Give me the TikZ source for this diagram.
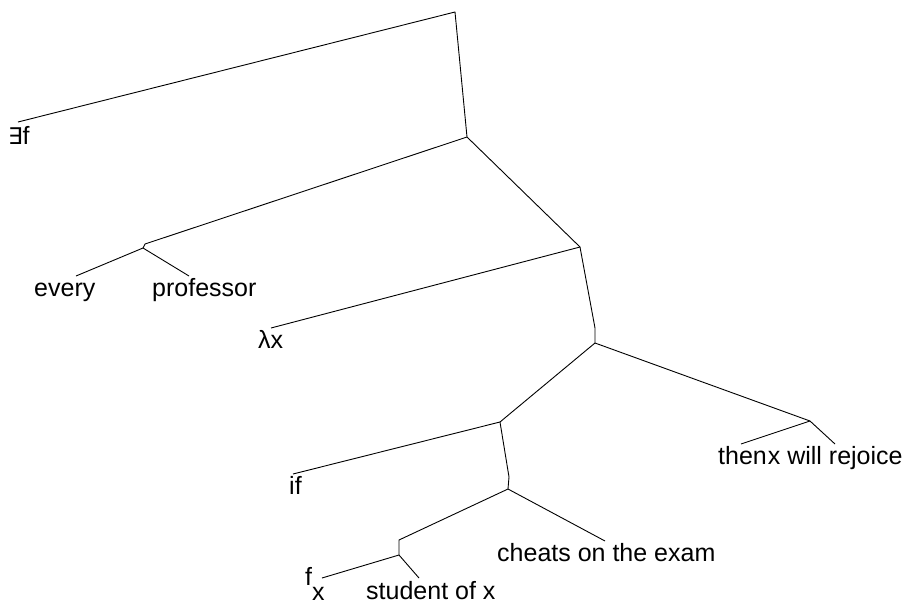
\documentclass[tikz,border=0pt]{standalone}
\usepackage{fontspec}
\setmainfont{Liberation Sans}
\newfontfamily\symfont{DejaVu Sans}
\begin{document}
\begin{tikzpicture}[x=1pt,y=-1pt,
  edge/.style={draw=black,line width=0.9pt,line join=round},
  leaf/.style={anchor=base west,inner sep=0pt,font=\fontsize{25}{30}\selectfont}]
\useasboundingbox (0,0) rectangle (906,606);
% junctions
\coordinate (A) at (455,12);
\coordinate (B) at (467,137);
\coordinate (Ct) at (145,244);
\coordinate (C) at (143,248);
\coordinate (D) at (580,247);
\coordinate (Et) at (595,328);
\coordinate (E) at (595,343);
\coordinate (F) at (500,422);
\coordinate (G) at (810,421);
\coordinate (Ht) at (509,477);
\coordinate (H) at (508,489);
\coordinate (It) at (399,540);
\coordinate (I) at (399,555);
% line ends above leaves
\coordinate (eExists) at (18,122);
\coordinate (eEvery) at (76,276);
\coordinate (eProf) at (189,276);
\coordinate (eLambda) at (271,328);
\coordinate (eIf) at (293,474);
\coordinate (eThen) at (741,444);
\coordinate (eRejoice) at (835,444);
\coordinate (eCheats) at (605,541);
\coordinate (eFx) at (322,578);
\coordinate (eStudent) at (419,578);
% leaves
\node[leaf] (tExists) at (8,144) {{\symfont\fontsize{23}{26}\selectfont ∃}f};
\node[leaf] (tEvery) at (34,296) {every};
\node[leaf] (tProf) at (152,296) {professor};
\node[leaf] (tLambda) at (258,348) {λx};
\node[leaf] (tIf) at (289,494) {if};
\node[leaf] (tThen) at (718,464) {then\kern1pt x will rejoice};
\node[leaf] (tCheats) at (497,561) {cheats on the exam};
\node[leaf] (tFx) at (305,585) {f\raisebox{-15pt}[0pt][0pt]{x}};
\node[leaf] (tStudent) at (366,599) {student of x};
% edges
\draw[edge] (eExists) -- (A) -- (B);
\draw[edge] (B) -- (Ct) -- (C);
\draw[edge] (eEvery) -- (C) -- (eProf);
\draw[edge] (B) -- (D);
\draw[edge] (D) -- (eLambda);
\draw[edge] (D) -- (Et) -- (E);
\draw[edge] (E) -- (F);
\draw[edge] (E) -- (G);
\draw[edge] (eThen) -- (G) -- (eRejoice);
\draw[edge] (F) -- (eIf);
\draw[edge] (F) -- (Ht) -- (H);
\draw[edge] (H) -- (It) -- (I);
\draw[edge] (H) -- (eCheats);
\draw[edge] (eFx) -- (I) -- (eStudent);
\end{tikzpicture}
\end{document}
